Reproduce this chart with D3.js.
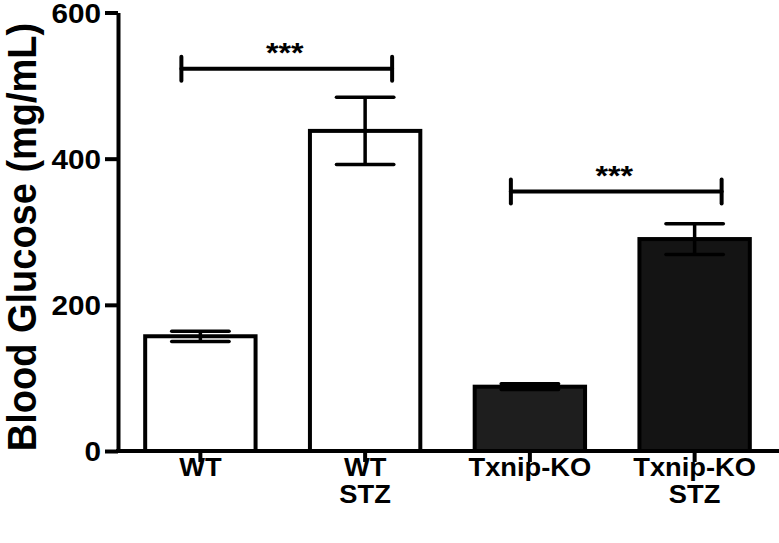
<!DOCTYPE html>
<html>
<head>
<meta charset="utf-8">
<script src="https://cdn.jsdelivr.net/npm/d3@7"></script>
<style>
  html, body { margin: 0; padding: 0; background: #ffffff; }
  svg { display: block; }
  text { font-family: "Liberation Sans", Arial, Helvetica, sans-serif; font-weight: bold; fill: #000; }
</style>
</head>
<body>
<svg id="chart" width="779" height="543"></svg>
<script>
// ---- data ----
const categories = ["WT", "WT STZ", "Txnip-KO", "Txnip-KO STZ"];
const categoryLines = [["WT"], ["WT", "STZ"], ["Txnip-KO"], ["Txnip-KO", "STZ"]];
const means = [157, 438, 88, 290];
const sems = [7, 46, 4, 21];
const yTicks = [0, 200, 400, 600];
const yTitle = "Blood Glucose (mg/mL)";
const compFrom = [0, 2];
const compTo = [1, 3];
const compLevel = [523, 355];
const compLabel = ["***", "***"];

// ---- styles ----
const fills = ["#ffffff", "#ffffff", "#1e1e1e", "#141414"];

const svg = d3.select("#chart");
const W = 779, H = 543;
const y = d3.scaleLinear().domain([0, 600]).range([451, 12.5]);
const x = d3.scaleBand().domain(d3.range(categories.length))
  .range([118, 777]).paddingInner(0.33).paddingOuter(0.165);
const bw = x.bandwidth();

// bars
svg.append("g").selectAll("rect").data(means).join("rect")
  .attr("x", (d, i) => x(i))
  .attr("y", d => y(d))
  .attr("width", bw)
  .attr("height", d => y(0) - y(d))
  .attr("fill", (d, i) => fills[i])
  .attr("stroke", "#000").attr("stroke-width", 4);

// error bars
const eg = svg.append("g").attr("stroke", "#000").attr("stroke-width", 3.5).attr("fill", "none");
means.forEach((m, i) => {
  const cx = x(i) + bw / 2, half = bw * 0.26;
  eg.append("line").attr("x1", cx).attr("x2", cx).attr("y1", y(m + sems[i])).attr("y2", y(m - sems[i]));
  eg.append("line").attr("x1", cx - half).attr("x2", cx + half).attr("y1", y(m + sems[i])).attr("y2", y(m + sems[i])).attr("stroke-linecap", "round");
  eg.append("line").attr("x1", cx - half).attr("x2", cx + half).attr("y1", y(m - sems[i])).attr("y2", y(m - sems[i])).attr("stroke-linecap", "round");
});

// y axis
const yAxis = svg.append("g").attr("transform", "translate(118,0)")
  .call(d3.axisLeft(y).tickValues(yTicks).tickSize(13).tickSizeOuter(0).tickPadding(17));
yAxis.attr("font-size", null).attr("font-family", null);
yAxis.select(".domain").attr("stroke-width", 4);
yAxis.selectAll(".tick line").attr("stroke-width", 4);
yAxis.selectAll(".tick text")
  .attr("x", -17 / 1.1).attr("dy", "0.36em")
  .attr("transform", "scale(1.1,1)")
  .attr("font-size", 27)
  .style("font-size", "27px");

// x axis
const xAxis = svg.append("g").attr("transform", "translate(0,451)")
  .call(d3.axisBottom(x).tickSize(11).tickSizeOuter(0).tickFormat(""));
xAxis.attr("font-size", null).attr("font-family", null);
xAxis.select(".domain").remove();
xAxis.selectAll(".tick line").attr("stroke-width", 4);
xAxis.append("line").attr("x1", 116).attr("x2", W).attr("y1", 0).attr("y2", 0)
  .attr("stroke", "#000").attr("stroke-width", 4);
xAxis.selectAll(".tick").each(function (d) {
  const t = d3.select(this).append("text")
    .attr("text-anchor", "middle")
    .attr("transform", "scale(1.05,1)")
    .attr("font-size", 26)
    .style("font-size", "26px");
  categoryLines[d].forEach((ln, k) => {
    t.append("tspan").attr("x", 0).attr("y", 25 + k * 27).text(ln);
  });
});

// y title
svg.append("text")
  .attr("transform", "translate(36,237) rotate(-90) scale(1,1.05)")
  .attr("text-anchor", "middle")
  .attr("font-size", 38)
  .style("font-size", "38px")
  .text(yTitle);

// significance brackets
const sg = svg.append("g");
compFrom.forEach((f, k) => {
  const x1 = x(f) + bw / 2 - 19, x2 = x(compTo[k]) + bw / 2 + 27, yy = y(compLevel[k]);
  const g = sg.append("g").attr("stroke", "#000").attr("stroke-width", 4).attr("stroke-linecap", "round");
  g.append("line").attr("x1", x1).attr("x2", x2).attr("y1", yy).attr("y2", yy);
  g.append("line").attr("x1", x1).attr("x2", x1).attr("y1", yy - 12).attr("y2", yy + 12);
  g.append("line").attr("x1", x2).attr("x2", x2).attr("y1", yy - 12).attr("y2", yy + 12);
  sg.append("text")
    .attr("text-anchor", "middle")
    .attr("transform", `translate(${(x1 + x2) / 2 - 2},${yy - 7}) scale(1.15,1)`)
    .attr("font-size", 28)
    .style("font-size", "28px")
    .text(compLabel[k]);
});
</script>
</body>
</html>
